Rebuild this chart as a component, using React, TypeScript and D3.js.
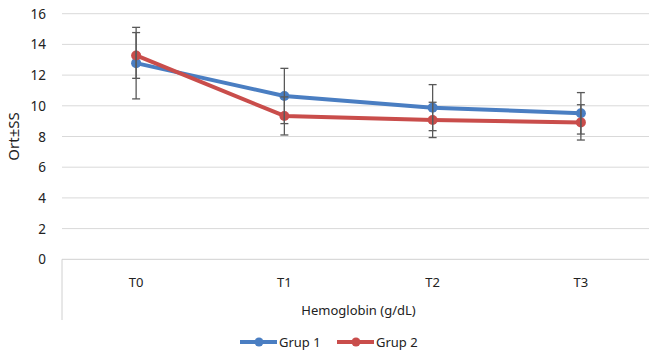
import React from "react";
import * as d3 from "d3";

const categories = ["T0", "T1", "T2", "T3"];
const grup1 = [12.78, 10.64, 9.88, 9.51];
const grup1Err = [2.33, 1.8, 1.5, 1.35];
const grup2 = [13.28, 9.34, 9.08, 8.92];
const grup2Err = [1.49, 1.24, 1.15, 1.15];
const yTicks = [0, 2, 4, 6, 8, 10, 12, 14, 16];
const seriesNames = ["Grup 1", "Grup 2"];
const colors = ["#4a7ec2", "#c94d4b"];

const W = 649;
const H = 357;
const left = 62;
const right = 655;
const top = 13.7;
const bottom = 259.3;
const font = "'Noto Sans', 'Liberation Sans', sans-serif";

export default function App() {
  const x = d3.scaleBand<string>().domain(categories).range([left, right]);
  const y = d3.scaleLinear().domain([0, 16]).range([bottom, top]);
  const cx = (c: string) => (x(c) as number) + x.bandwidth() / 2;

  const series = [
    { name: seriesNames[0], values: grup1, err: grup1Err, color: colors[0] },
    { name: seriesNames[1], values: grup2, err: grup2Err, color: colors[1] },
  ];

  const line = d3
    .line<number>()
    .x((_, i) => cx(categories[i]))
    .y((d) => y(d));

  const legendItems = [
    { name: seriesNames[0], color: colors[0], x0: 240 },
    { name: seriesNames[1], color: colors[1], x0: 337 },
  ];

  return (
    <div style={{ position: "absolute", left: 0, top: 0 }}>
      <svg width={W} height={H} style={{ display: "block", background: "#fff" }}>
        {yTicks.map((t) => (
          <g key={t}>
            {t > 0 && (
              <line x1={left} x2={W} y1={y(t)} y2={y(t)} stroke="#d9d9d9" strokeWidth={1} />
            )}
            <text
              x={46}
              y={y(t)}
              textAnchor="end"
              dominantBaseline="central"
              fontFamily={font}
              fontSize={13.5}
              fill="#222"
            >
              {t}
            </text>
          </g>
        ))}
        <line x1={left} x2={W} y1={bottom} y2={bottom} stroke="#d0d0d0" strokeWidth={1} />
        <line x1={left} x2={left} y1={bottom} y2={320} stroke="#d0d0d0" strokeWidth={1} />
        {categories.map((c) => (
          <text
            key={c}
            x={cx(c)}
            y={282}
            textAnchor="middle"
            dominantBaseline="central"
            fontFamily={font}
            fontSize={13}
            fill="#222"
          >
            {c}
          </text>
        ))}
        <text
          x={(left + right) / 2}
          y={310}
          textAnchor="middle"
          dominantBaseline="central"
          fontFamily={font}
          fontSize={13}
          fill="#222"
        >
          Hemoglobin (g/dL)
        </text>
        <text
          transform={`translate(13,${(top + bottom) / 2}) rotate(-90)`}
          textAnchor="middle"
          dominantBaseline="central"
          fontFamily={font}
          fontSize={15}
          fill="#222"
        >
          Ort±SS
        </text>
        {series.map((s) => (
          <g key={s.name}>
            <path
              d={line(s.values) || ""}
              fill="none"
              stroke={s.color}
              strokeWidth={4}
              strokeLinejoin="round"
            />
            {s.values.map((v, i) => (
              <circle key={i} cx={cx(categories[i])} cy={y(v)} r={5} fill={s.color} />
            ))}
          </g>
        ))}
        {series.map((s) => (
          <g key={s.name + "err"}>
            {s.values.map((v, i) => {
              const px = cx(categories[i]);
              const hi = y(v + s.err[i]);
              const lo = y(v - s.err[i]);
              return (
                <g key={i} stroke="#595959" strokeWidth={1.3}>
                  <line x1={px} x2={px} y1={hi} y2={lo} />
                  <line x1={px - 4} x2={px + 4} y1={hi} y2={hi} />
                  <line x1={px - 4} x2={px + 4} y1={lo} y2={lo} />
                </g>
              );
            })}
          </g>
        ))}
        {legendItems.map((l) => (
          <g key={l.name}>
            <line x1={l.x0} x2={l.x0 + 37} y1={342} y2={342} stroke={l.color} strokeWidth={4} />
            <circle cx={l.x0 + 19} cy={342} r={4.5} fill={l.color} />
            <text
              x={l.x0 + 39}
              y={342}
              dominantBaseline="central"
              fontFamily={font}
              fontSize={13}
              fill="#222"
            >
              {l.name}
            </text>
          </g>
        ))}
      </svg>
    </div>
  );
}
